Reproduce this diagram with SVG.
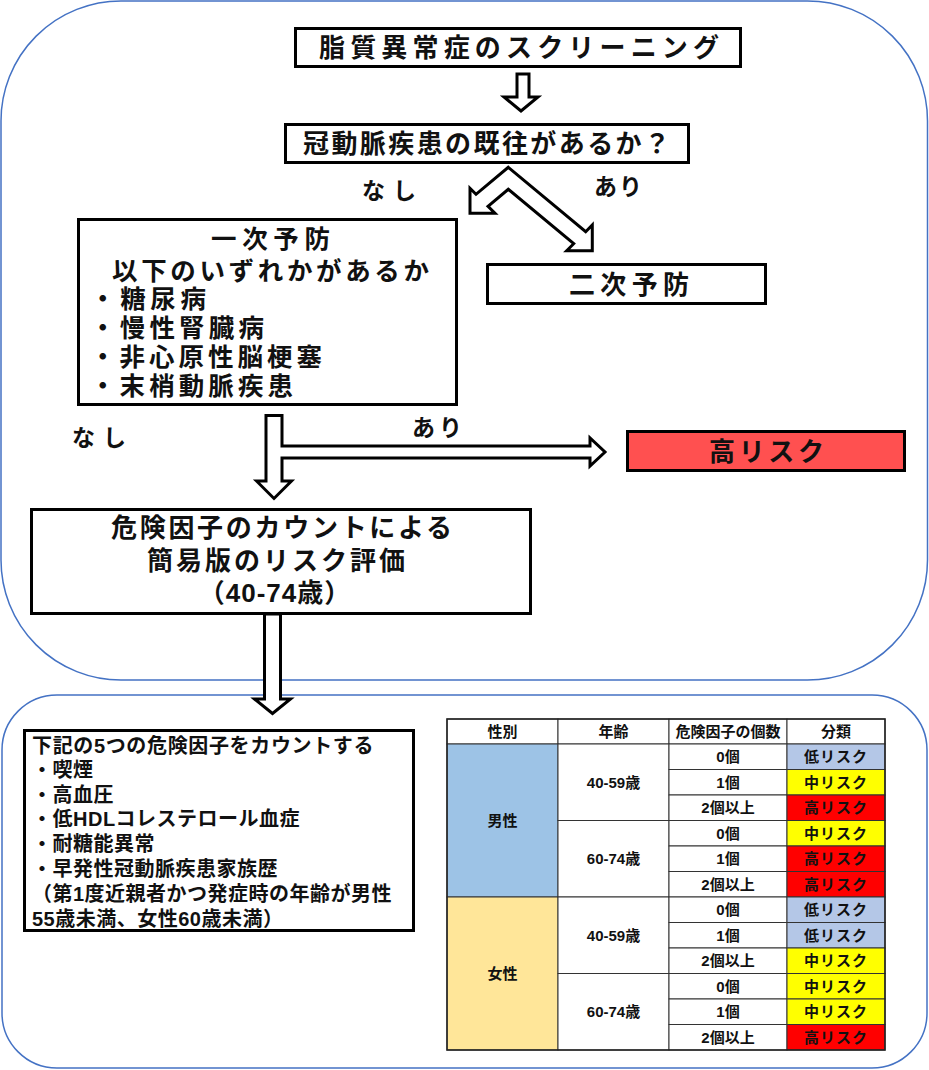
<svg xmlns="http://www.w3.org/2000/svg" width="929" height="1070" viewBox="0 0 929 1070">
<style>
.frame{fill:none;stroke:#4472C4;stroke-width:1.5}
.box{fill:#fff;stroke:#000;stroke-width:3}
.arr{fill:#fff;stroke:#000;stroke-width:3;stroke-linejoin:miter}
.t{font-family:"Liberation Sans","Noto Sans CJK JP","Noto Sans CJK SC",sans-serif;font-weight:700;fill:#111}
.big{font-size:26px}
.list{font-size:25.5px}
.lbl{font-size:23px}
.mid{font-size:20px;letter-spacing:0.5px}
.tb{font-size:15px;text-anchor:middle}
.cell{stroke:#333;stroke-width:1}
</style>
<rect class="frame" x="1" y="1" width="926.5" height="679" rx="120" ry="120"/>
<rect class="frame" x="2" y="695" width="925" height="373" rx="55" ry="55"/>

<g id="n-screening">
<rect class="box" x="295.5" y="28.5" width="445" height="38"/>
<text class="t big" x="319" y="57" textLength="400" lengthAdjust="spacing">脂質異常症のスクリーニング</text>
</g>
<g id="n-history">
<rect class="box" x="285.5" y="124.5" width="403" height="38"/>
<text class="t big" x="303" y="153" textLength="367" lengthAdjust="spacing">冠動脈疾患の既往があるか？</text>
</g>
<g id="n-primary">
<rect class="box" x="78.5" y="219.5" width="378" height="185"/>
<text class="t list" x="211" y="247.5" textLength="119" lengthAdjust="spacing">一次予防</text>
<text class="t list" x="112" y="279.5" textLength="317" lengthAdjust="spacing">以下のいずれかがあるか</text>
<text class="t list" x="90" y="307.5" textLength="116" lengthAdjust="spacing">・糖尿病</text>
<text class="t list" x="90" y="337" textLength="174" lengthAdjust="spacing">・慢性腎臓病</text>
<text class="t list" x="90" y="366" textLength="232" lengthAdjust="spacing">・非心原性脳梗塞</text>
<text class="t list" x="90" y="394.5" textLength="203" lengthAdjust="spacing">・末梢動脈疾患</text>
</g>
<g id="n-secondary">
<rect class="box" x="487.5" y="264.5" width="278" height="39"/>
<text class="t big" x="569" y="294" textLength="120" lengthAdjust="spacing">二次予防</text>
</g>
<g id="n-highrisk">
<rect class="box" style="fill:#FF5050" x="627.5" y="431.5" width="277" height="39"/>
<text class="t big" x="709" y="461" textLength="115" lengthAdjust="spacing">高リスク</text>
</g>
<g id="n-simple">
<rect class="box" x="31.5" y="509.5" width="499" height="104"/>
<text class="t big" x="111" y="537" textLength="341" lengthAdjust="spacing">危険因子のカウントによる</text>
<text class="t big" x="147" y="570" textLength="258" lengthAdjust="spacing">簡易版のリスク評価</text>
<text class="t big" x="275" y="602" text-anchor="middle" style="letter-spacing:1px">（40-74歳）</text>
</g>
<g id="n-count">
<rect class="box" x="24.5" y="730.5" width="389" height="200"/>
<text class="t mid" x="32" y="752.6" textLength="342" lengthAdjust="spacing">下記の5つの危険因子をカウントする</text>
<text class="t mid" x="32" y="776.6">・喫煙</text>
<text class="t mid" x="32" y="801.6">・高血圧</text>
<text class="t mid" x="32" y="825.6">・低HDLコレステロール血症</text>
<text class="t mid" x="32" y="850.6">・耐糖能異常</text>
<text class="t mid" x="32" y="875.6">・早発性冠動脈疾患家族歴</text>
<text class="t mid" x="32" y="900.6">（第1度近親者かつ発症時の年齢が男性</text>
<text class="t mid" x="32" y="925.6">55歳未満、女性60歳未満）</text>
</g>

<g id="connectors">
<polygon class="arr" points="517,74 529,74 529,97 538,97 521,111 504,97 517,97"/>
<polygon class="arr" points="508.3,167.3 585.7,231.7 592.3,225 592.3,250.7 566.7,250.7 573.7,243.7 508.3,189.3 488,206.3 495,213.3 470,213.3 470,188.3 476,194.3"/>
<polygon class="arr" points="266,415.5 282,415.5 282,446 590,446 590,438 605,452 590,466 590,458 282,458 282,481 291.5,481 274,498.5 256.5,481 266,481"/>
<polygon class="arr" points="264.5,614 280.5,614 280.5,699 290.5,699 272.5,713.5 254.5,699 264.5,699"/>
<text class="t lbl" x="362" y="198.7" textLength="54" lengthAdjust="spacing">なし</text>
<text class="t lbl" x="594" y="194.7" textLength="48" lengthAdjust="spacing">あり</text>
<text class="t lbl" x="72" y="445.7" textLength="54" lengthAdjust="spacing">なし</text>
<text class="t lbl" x="412" y="435.7" textLength="50" lengthAdjust="spacing">あり</text>
</g>

<g id="risk-table">
<rect class="cell" x="447" y="719" width="111" height="25" fill="#fff"/>
<rect class="cell" x="558" y="719" width="111" height="25" fill="#fff"/>
<rect class="cell" x="669" y="719" width="118" height="25" fill="#fff"/>
<rect class="cell" x="787" y="719" width="98" height="25" fill="#fff"/>
<text class="t tb" x="502.5" y="736.5">性別</text>
<text class="t tb" x="613.5" y="736.5">年齢</text>
<text class="t tb" x="728" y="736.5">危険因子の個数</text>
<text class="t tb" x="836" y="736.5">分類</text>

<rect class="cell" x="447" y="744" width="111" height="153" fill="#9DC3E6"/>
<rect class="cell" x="447" y="897" width="111" height="153" fill="#FFE699"/>
<text class="t tb" x="502.5" y="826">男性</text>
<text class="t tb" x="502.5" y="979">女性</text>

<rect class="cell" x="558" y="744" width="111" height="76.5" fill="#fff"/>
<rect class="cell" x="558" y="820.5" width="111" height="76.5" fill="#fff"/>
<rect class="cell" x="558" y="897" width="111" height="76.5" fill="#fff"/>
<rect class="cell" x="558" y="973.5" width="111" height="76.5" fill="#fff"/>
<text class="t tb" x="613.5" y="787.8">40-59歳</text>
<text class="t tb" x="613.5" y="864.3">60-74歳</text>
<text class="t tb" x="613.5" y="940.8">40-59歳</text>
<text class="t tb" x="613.5" y="1017.3">60-74歳</text>

<g fill="#fff">
<rect class="cell" x="669" y="744" width="118" height="25.5"/>
<rect class="cell" x="669" y="769.5" width="118" height="25.5"/>
<rect class="cell" x="669" y="795" width="118" height="25.5"/>
<rect class="cell" x="669" y="820.5" width="118" height="25.5"/>
<rect class="cell" x="669" y="846" width="118" height="25.5"/>
<rect class="cell" x="669" y="871.5" width="118" height="25.5"/>
<rect class="cell" x="669" y="897" width="118" height="25.5"/>
<rect class="cell" x="669" y="922.5" width="118" height="25.5"/>
<rect class="cell" x="669" y="948" width="118" height="25.5"/>
<rect class="cell" x="669" y="973.5" width="118" height="25.5"/>
<rect class="cell" x="669" y="999" width="118" height="25.5"/>
<rect class="cell" x="669" y="1024.5" width="118" height="25.5"/>
</g>
<text class="t tb" x="728" y="762.3">0個</text>
<text class="t tb" x="728" y="787.8">1個</text>
<text class="t tb" x="728" y="813.3">2個以上</text>
<text class="t tb" x="728" y="838.8">0個</text>
<text class="t tb" x="728" y="864.3">1個</text>
<text class="t tb" x="728" y="889.8">2個以上</text>
<text class="t tb" x="728" y="915.3">0個</text>
<text class="t tb" x="728" y="940.8">1個</text>
<text class="t tb" x="728" y="966.3">2個以上</text>
<text class="t tb" x="728" y="991.8">0個</text>
<text class="t tb" x="728" y="1017.3">1個</text>
<text class="t tb" x="728" y="1042.8">2個以上</text>

<rect class="cell" x="787" y="744" width="98" height="25.5" fill="#B4C7E7"/>
<rect class="cell" x="787" y="769.5" width="98" height="25.5" fill="#FFFF00"/>
<rect class="cell" x="787" y="795" width="98" height="25.5" fill="#FF0000"/>
<rect class="cell" x="787" y="820.5" width="98" height="25.5" fill="#FFFF00"/>
<rect class="cell" x="787" y="846" width="98" height="25.5" fill="#FF0000"/>
<rect class="cell" x="787" y="871.5" width="98" height="25.5" fill="#FF0000"/>
<rect class="cell" x="787" y="897" width="98" height="25.5" fill="#B4C7E7"/>
<rect class="cell" x="787" y="922.5" width="98" height="25.5" fill="#B4C7E7"/>
<rect class="cell" x="787" y="948" width="98" height="25.5" fill="#FFFF00"/>
<rect class="cell" x="787" y="973.5" width="98" height="25.5" fill="#FFFF00"/>
<rect class="cell" x="787" y="999" width="98" height="25.5" fill="#FFFF00"/>
<rect class="cell" x="787" y="1024.5" width="98" height="25.5" fill="#FF0000"/>
<g style="letter-spacing:1px">
<text class="t tb" x="836" y="762.3">低リスク</text>
<text class="t tb" x="836" y="787.8">中リスク</text>
<text class="t tb" x="836" y="813.3">高リスク</text>
<text class="t tb" x="836" y="838.8">中リスク</text>
<text class="t tb" x="836" y="864.3">高リスク</text>
<text class="t tb" x="836" y="889.8">高リスク</text>
<text class="t tb" x="836" y="915.3">低リスク</text>
<text class="t tb" x="836" y="940.8">低リスク</text>
<text class="t tb" x="836" y="966.3">中リスク</text>
<text class="t tb" x="836" y="991.8">中リスク</text>
<text class="t tb" x="836" y="1017.3">中リスク</text>
<text class="t tb" x="836" y="1042.8">高リスク</text>
</g>
<rect x="447" y="719" width="438" height="331" fill="none" stroke="#222" stroke-width="1.5"/>
</g>
</svg>
